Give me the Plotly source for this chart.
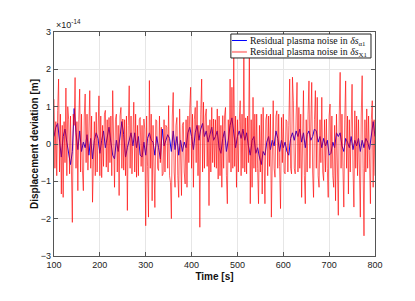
import numpy as np
import plotly.graph_objects as go

# Residual plasma noise in delta s_alpha1 (units of 1e-14 m), sampled every 4 s from 100 s
blue_v = [
    0.2, 0.45, 0.55, 0.1, -0.35, 0.2, 0.4, 0.05, -0.3, -0.55,
    -0.2, 0.95, 0.3, -0.15, 0.35, -0.2, 0.05, -0.1, 0.25, -0.3,
    0.15, -0.4, 0.1, 0.3, 0.15, -0.25, 0.1, 0.35, -0.1, 0.2,
    0.45, 0.05, -0.3, -0.4, 0.1, -0.2, 0.3, 0.6, 0.25, -0.35,
    -0.1, 0.15, 0.3, -0.05, 0.3, -0.1, 0.2, -0.3, -0.35, 0.05,
    -0.3, 0.15, 0.3, 0.1, 0.05, -0.3, 0.2, -0.1, -0.4, 0.4,
    -0.05, 0.1, 0.25, 0.15, -0.2, 0.35, -0.15, 0.2, -0.3, 0.1,
    -0.2, 0.05, -0.1, 0.3, 0.45, 0.2, -0.15, 0.3, 0.5, 0.1,
    0.4, 0.55, 0.2, 0.35, 0.05, 0.25, 0.45, 0.1, 0.2, 0.35,
    -0.1, -0.25, 0.15, 0.35, -0.2, 0.1, 0.5, 0.7, 0.3, -0.1,
    0.2, 0.35, 0.15, 0.4, 0.1, 0.3, -0.05, -0.3, 0.1, 0.2,
    -0.25, -0.1, -0.35, -0.55, -0.2, -0.3, 0.05, 0.2, -0.15, 0.1,
    -0.05, 0.35, 0.15, -0.2, 0.1, -0.1, 0.05, -0.2, -0.3, 0.15,
    0.3, 0.1, 0.35, 0.2, 0.4, 0.05, 0.3, -0.1, 0.25, 0.35,
    0.1, 0.2, 0.4, 0.35, 0.05, 0.2, -0.1, 0.15, -0.05, 0.1,
    -0.3, -0.25, 0.05, -0.1, 0.3, 0.2, 0.3, -0.05, -0.2, 0.15,
    0.05, -0.1, 0.2, -0.15, 0.1, -0.05, 0.15, -0.2, 0.1, -0.1,
    0.15, 0.05, -0.15, 0.3, 0.6, 0.2,
]

# Residual plasma noise in delta s_X1 (units of 1e-14 m), sampled every 2 s from 100 s
red_v = [
    # 100 - 198
    1.2, -0.65, 0.6, -0.85, 0.9, 1.74, -0.75, 0.8, -1.34, 0.5,
    -1.43, 0.6, -0.5, 1.5, -0.85, 1.0, 0.65, -0.8, 0.75, -0.6,
    -2.1, 0.8, 0.5, 1.78, -0.65, 0.6, -1.25, 0.65, 1.47, -0.75,
    0.8, -0.7, -1.25, 0.75, 1.34, -0.5, 0.8, -0.7, 0.6, 1.43,
    -0.65, 0.75, -1.56, -0.5, 0.6, -0.85, 0.85, -0.75, 0.65, 1.29,
    # 200 - 298
    -0.85, 0.75, -0.9, 0.5, -0.6, 0.8, 0.9, -0.62, 0.65, -0.75,
    0.71, -0.5, 0.75, -0.85, 1.43, -0.65, -1.16, 0.65, 0.8, -0.75,
    0.5, -1.38, 0.75, 0.98, -0.65, 0.67, -0.7, 0.65, -0.85, 0.75,
    -1.78, 0.5, 1.56, -0.65, 0.75, -0.8, 0.65, 1.12, -0.75, 0.8,
    -0.89, 0.5, -0.85, 0.65, 0.71, -0.6, 0.5, -0.75, 0.67, 0.4,
    # 300 - 398
    -2.19, 0.75, -0.6, -1.96, 1.7, -0.65, 0.8, -1.52, 0.5, -0.85,
    -1.7, 0.65, 0.62, -0.65, -0.71, 0.75, -0.5, 0.45, -0.85, -0.8,
    0.65, -0.75, 0.5, 0.45, -0.65, 1.03, -0.85, -1.03, -2.0, 0.75,
    1.38, -0.75, -1.16, 0.5, 0.71, -0.85, -1.43, 0.94, -0.65, -1.38,
    0.5, 0.58, -0.75, -1.07, 0.65, -1.16, 0.75, -0.5, 0.94, 1.52,
    # 400 - 498
    -0.65, 0.8, -1.16, 0.65, 0.98, -0.5, 1.16, -0.85, 0.5, -2.23,
    0.8, 1.74, -0.75, 1.12, -0.65, 0.75, 0.94, -0.6, 0.5, -1.65,
    0.65, -0.75, 0.98, -0.5, 0.67, -0.62, 0.65, -0.65, 0.94, -0.94,
    0.75, -0.85, 0.5, -1.16, 0.76, -0.65, 0.75, 0.98, -0.85, -1.6,
    0.65, -0.5, 1.74, -0.75, 1.52, -0.65, 2.35, -0.6, 0.75, -1.16,
    # 500 - 598
    0.65, -0.75, 0.6, 1.16, -0.85, 0.8, -0.65, 2.55, -0.75, 0.7,
    -0.8, 0.75, -0.5, 2.6, -1.6, 0.65, -1.16, 1.25, -0.65, 0.8,
    -0.75, 0.8, -0.65, -1.6, 0.5, -0.75, 0.8, -1.34, 0.98, -0.5,
    -1.6, 0.65, 0.8, -0.85, 0.75, -0.6, 0.8, -1.96, 0.5, 1.16,
    -0.65, -0.89, 0.75, 0.89, -0.65, 0.8, -0.6, -1.73, 0.71, -0.5,
    # 600 - 698
    0.8, -0.75, -0.8, 0.65, 0.6, -0.75, 0.5, 1.74, -0.65, -0.8,
    1.79, 1.16, -0.65, -0.8, 0.75, 1.65, -0.75, 0.98, -0.65, 0.8,
    -1.43, 0.65, 1.43, -0.85, -1.6, 0.65, -0.75, 0.8, 1.69, -0.65,
    0.75, 1.65, -0.75, -1.43, 0.65, 1.43, -0.65, 1.25, -0.85, -1.16,
    0.65, -0.5, 1.25, -0.75, -0.98, 0.65, -0.75, 0.67, -0.65, -1.43,
    # 700 - 798
    0.75, 1.07, -0.65, 0.75, -0.85, -1.16, 0.5, -1.52, 0.8, -0.65,
    -1.91, 0.75, 1.92, -0.65, 0.8, -0.6, -1.69, 0.65, 1.69, -0.65,
    0.75, -1.34, 0.65, -0.75, 0.6, 1.6, -0.65, -1.69, 0.89, -0.65,
    0.75, -0.85, 0.65, -0.75, -1.96, 0.75, 1.83, -0.65, -2.46, 0.65,
    -0.75, 0.94, -0.65, 0.75, -0.85, -1.6, 0.65, 1.16, -1.16, 0.65,
    # 800
    -0.85,
]

blue_t = 100 + 4 * np.arange(len(blue_v))
red_t = 100 + 2 * np.arange(len(red_v))

x_ticks = [100, 200, 300, 400, 500, 600, 700, 800]
y_ticks = [-3, -2, -1, 0, 1, 2, 3]

blue_name = "Residual plasma noise in <i>δs</i><sub>α1</sub>"
red_name = "Residual plasma noise in <i>δs</i><sub>X1</sub>"
blue_col = "rgb(0,0,255)"
red_col = "rgba(255,0,0,0.62)"

fig = go.Figure()
fig.add_trace(go.Scatter(
    x=blue_t, y=blue_v, mode="lines",
    line=dict(color=blue_col, width=1), name=blue_name, showlegend=False,
))
fig.add_trace(go.Scatter(
    x=red_t, y=red_v, mode="lines",
    line=dict(color=red_col, width=1), name=red_name, showlegend=False,
))

axis_col = "#555555"
tick_font = dict(family="Liberation Sans, Arial", size=9, color="#222")
title_font = dict(family="Liberation Sans, Arial", size=10, color="#111")
fig.update_xaxes(
    range=[100, 800], tickvals=x_ticks, ticks="inside", ticklen=4,
    tickcolor=axis_col, showline=True, linecolor=axis_col, linewidth=1.2,
    mirror="ticks", showgrid=True, gridcolor="#e6e6e6", gridwidth=1,
    zeroline=False, tickfont=tick_font,
    title=dict(text="<b>Time [s]</b>", standoff=4, font=title_font),
)
fig.update_yaxes(
    range=[-3, 3], tickvals=y_ticks, ticks="inside", ticklen=4,
    tickcolor=axis_col, showline=True, linecolor=axis_col, linewidth=1.2,
    mirror="ticks", showgrid=True, gridcolor="#e6e6e6", gridwidth=1,
    zeroline=False, tickfont=tick_font,
    title=dict(text="<b>Displacement deviation [m]</b>", standoff=0, font=title_font),
)

# exponent label
fig.add_annotation(
    xref="paper", yref="paper", x=0, y=1, xanchor="left", yanchor="bottom",
    text="×10<sup>-14</sup>", showarrow=False,
    font=dict(family="Liberation Sans, Arial", size=9, color="#222"),
)

# legend box (drawn as a boxed key in the top-right corner)
leg_font = dict(family="Liberation Serif, Times New Roman", size=9.8, color="#111")
fig.add_shape(type="rect", xref="paper", yref="paper",
              x0=0.551, x1=0.9875, y0=0.884, y1=0.991,
              line=dict(color="#222", width=1), fillcolor="white", layer="above")
fig.add_shape(type="line", xref="paper", yref="paper",
              x0=0.5545, x1=0.601, y0=0.962, y1=0.962,
              line=dict(color=blue_col, width=1), layer="above")
fig.add_shape(type="line", xref="paper", yref="paper",
              x0=0.5545, x1=0.601, y0=0.911, y1=0.911,
              line=dict(color="rgba(255,0,0,0.4)", width=2), layer="above")
fig.add_annotation(xref="paper", yref="paper", x=0.603, y=0.962,
                   xanchor="left", yanchor="middle", text=blue_name,
                   showarrow=False, font=leg_font)
fig.add_annotation(xref="paper", yref="paper", x=0.603, y=0.911,
                   xanchor="left", yanchor="middle", text=red_name,
                   showarrow=False, font=leg_font)

fig.update_layout(
    width=407, height=293,
    margin=dict(l=46, r=40, t=24, b=45),
    paper_bgcolor="white", plot_bgcolor="white",
    showlegend=False,
)

fig.write_html("out.html")
